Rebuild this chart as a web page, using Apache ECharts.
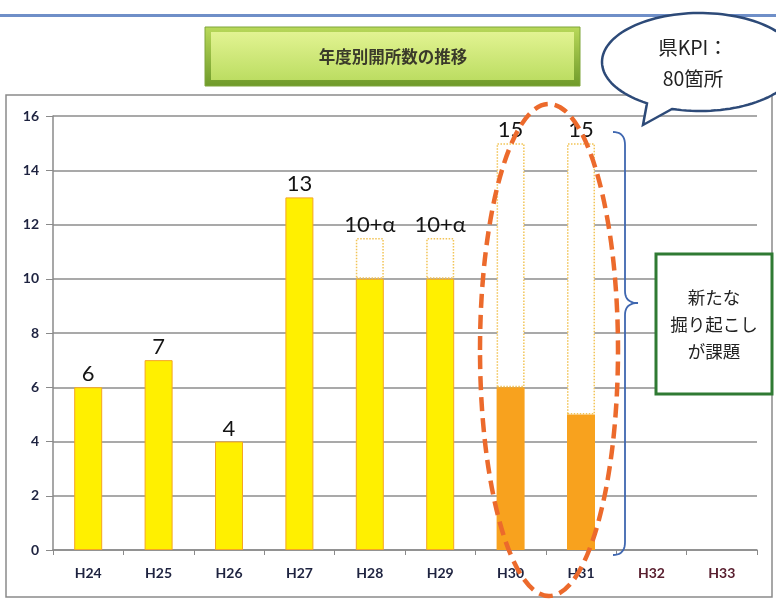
<!DOCTYPE html>
<html><head><meta charset="utf-8">
<script src="https://cdn.jsdelivr.net/npm/echarts@6/dist/echarts.min.js"></script>
<style>html,body{margin:0;padding:0;background:#fff;}#c{width:776px;height:599px;}</style>
</head><body><div id="c"></div>
<script>
const categories = ['H24','H25','H26','H27','H28','H29','H30','H31','H32','H33'];
const achieved = [6, 7, 4, 13, 10, 10, null, null, null, null];
const partial = [null, null, null, null, null, null, 6, 5, null, null];
const remaining = [0, 0, 0, 0, 1.5, 1.5, 9, 10, null, null];
const barLabels = ['6','7','4','13','10+α','10+α','15','15','',''];
const yTicks = [0, 2, 4, 6, 8, 10, 12, 14, 16];

const chart = echarts.init(document.getElementById('c'));
const numFont = 'Lato, "Noto Sans", sans-serif';
const jpFont = '"Noto Sans CJK JP", sans-serif';

const remData = remaining.map((v, i) => {
  if (v === null) return null;
  return {
    value: v,
    itemStyle: v === 0 ? {borderWidth: 0, color: 'rgba(0,0,0,0)'} : {},
    label: {show: true, formatter: barLabels[i]}
  };
});

// speech bubble outline (ellipse + tail)
function bubblePoints() {
  const cx = 700, cy = 62, rx = 98, ry = 49;
  const start = Math.acos((672 - cx) / rx), end = Math.acos((647 - cx) / rx) - 2 * Math.PI;
  const pts = [];
  const n = 120;
  for (let i = 0; i <= n; i++) {
    const t = start + (end - start) * i / n;
    pts.push([cx + rx * Math.cos(t), cy + ry * Math.sin(t)]);
  }
  pts.push([643, 125]);
  return pts;
}
function quad(p0, p1, p2, n) {
  const out = [];
  for (let i = 0; i <= n; i++) {
    const t = i / n, u = 1 - t;
    out.push([u*u*p0[0] + 2*u*t*p1[0] + t*t*p2[0], u*u*p0[1] + 2*u*t*p1[1] + t*t*p2[1]]);
  }
  return out;
}
const bracePts = [].concat(
  quad([613,132],[625,132],[625,145],10),
  quad([625,291],[625,303],[638,303],10),
  quad([638,303],[625,303],[625,315],10),
  quad([625,542],[625,555],[613,555],10)
);

chart.setOption({
  animation: false,
  grid: {left: 53, right: 19, top: 116, bottom: 49},
  xAxis: {
    type: 'category',
    data: categories,
    axisLine: {lineStyle: {color: '#8a8a8a', width: 1.5}},
    axisTick: {show: true, interval: 0, length: 5, lineStyle: {color: '#8a8a8a'}},
    axisLabel: {
      margin: 16, fontFamily: numFont, fontWeight: 'bold', fontSize: 14,
      color: function (v) { return (v === 'H32' || v === 'H33') ? '#5a2030' : '#1e2340'; }
    }
  },
  yAxis: {
    type: 'value', min: 0, max: 16, interval: 2,
    axisLine: {show: true, lineStyle: {color: '#8a8a8a', width: 1.5}},
    axisTick: {show: true, length: 7, lineStyle: {color: '#8a8a8a'}},
    splitLine: {lineStyle: {color: '#8c8c8c', width: 1.5}},
    axisLabel: {margin: 14, fontFamily: numFont, fontWeight: 'bold', fontSize: 14, color: '#1e2340',
      formatter: function (v) { return yTicks.indexOf(v) >= 0 ? String(v) : ''; }}
  },
  series: [
    {type: 'bar', stack: 's', barWidth: 28, data: achieved,
      itemStyle: {color: '#FFF000', borderColor: '#F5A623', borderWidth: 1}},
    {type: 'bar', stack: 's', barWidth: 28, data: partial,
      itemStyle: {color: '#F8A21E', borderWidth: 0}},
    {type: 'bar', stack: 's', barWidth: 28, data: remData,
      itemStyle: {color: '#ffffff', borderColor: '#F2C456', borderWidth: 1.5, borderType: 'dotted'},
      label: {show: true, position: 'top', distance: 2, fontFamily: numFont, fontSize: 22, color: '#141414'}}
  ],
  graphic: [
    {type: 'rect', z: -10, shape: {x: 0, y: 14, width: 776, height: 3}, style: {fill: '#6f8fc8'}},
    {type: 'rect', z: -10, shape: {x: 6, y: 95, width: 766, height: 502}, style: {fill: 'none', stroke: '#8a8a8a', lineWidth: 1.5}},
    {type: 'rect', shape: {x: 205, y: 27, width: 375, height: 59},
      style: {fill: new echarts.graphic.LinearGradient(0, 0, 0, 1, [{offset: 0, color: '#b9d95a'}, {offset: 1, color: '#6f9a2a'}]), stroke: '#7ea53a', lineWidth: 1},
      z: 100},
    {type: 'rect', shape: {x: 211, y: 32, width: 363, height: 48},
      style: {fill: new echarts.graphic.LinearGradient(0, 0, 0, 1, [{offset: 0, color: '#e2f392'}, {offset: 1, color: '#bcdd62'}])},
      z: 101},
    {type: 'text', z: 102, style: {x: 393, y: 57, text: '年度別開所数の推移', fontFamily: jpFont, fontWeight: 'bold', fontSize: 16.5, fill: '#3a3a2a', align: 'center', verticalAlign: 'middle'}},
    {type: 'ellipse', z: 50, shape: {cx: 549, cy: 350, rx: 69, ry: 246},
      style: {fill: 'none', stroke: '#EC6A2C', lineWidth: 4.5, lineDash: [14, 7]}},
    {type: 'polyline', z: 60, shape: {points: bracePts},
      style: {fill: 'none', stroke: '#3f67b0', lineWidth: 1.8}},
    {type: 'rect', z: 60, shape: {x: 656, y: 254, width: 116, height: 140}, style: {fill: '#ffffff', stroke: '#2f7a33', lineWidth: 3}},
    {type: 'text', z: 61, style: {x: 714, y: 324, text: '新たな\n掘り起こし\nが課題', fontFamily: jpFont, fontSize: 17.5, lineHeight: 27, fill: '#222222', align: 'center', verticalAlign: 'middle'}},
    {type: 'polygon', z: 70, shape: {points: bubblePoints()},
      style: {fill: '#ffffff', stroke: '#2d4a78', lineWidth: 2.5}},
    {type: 'text', z: 71, style: {x: 693, y: 63, text: '県KPI：\n80箇所', fontFamily: jpFont, fontSize: 19.5, lineHeight: 31, fill: '#222222', align: 'center', verticalAlign: 'middle'}}
  ]
});
</script></body></html>
